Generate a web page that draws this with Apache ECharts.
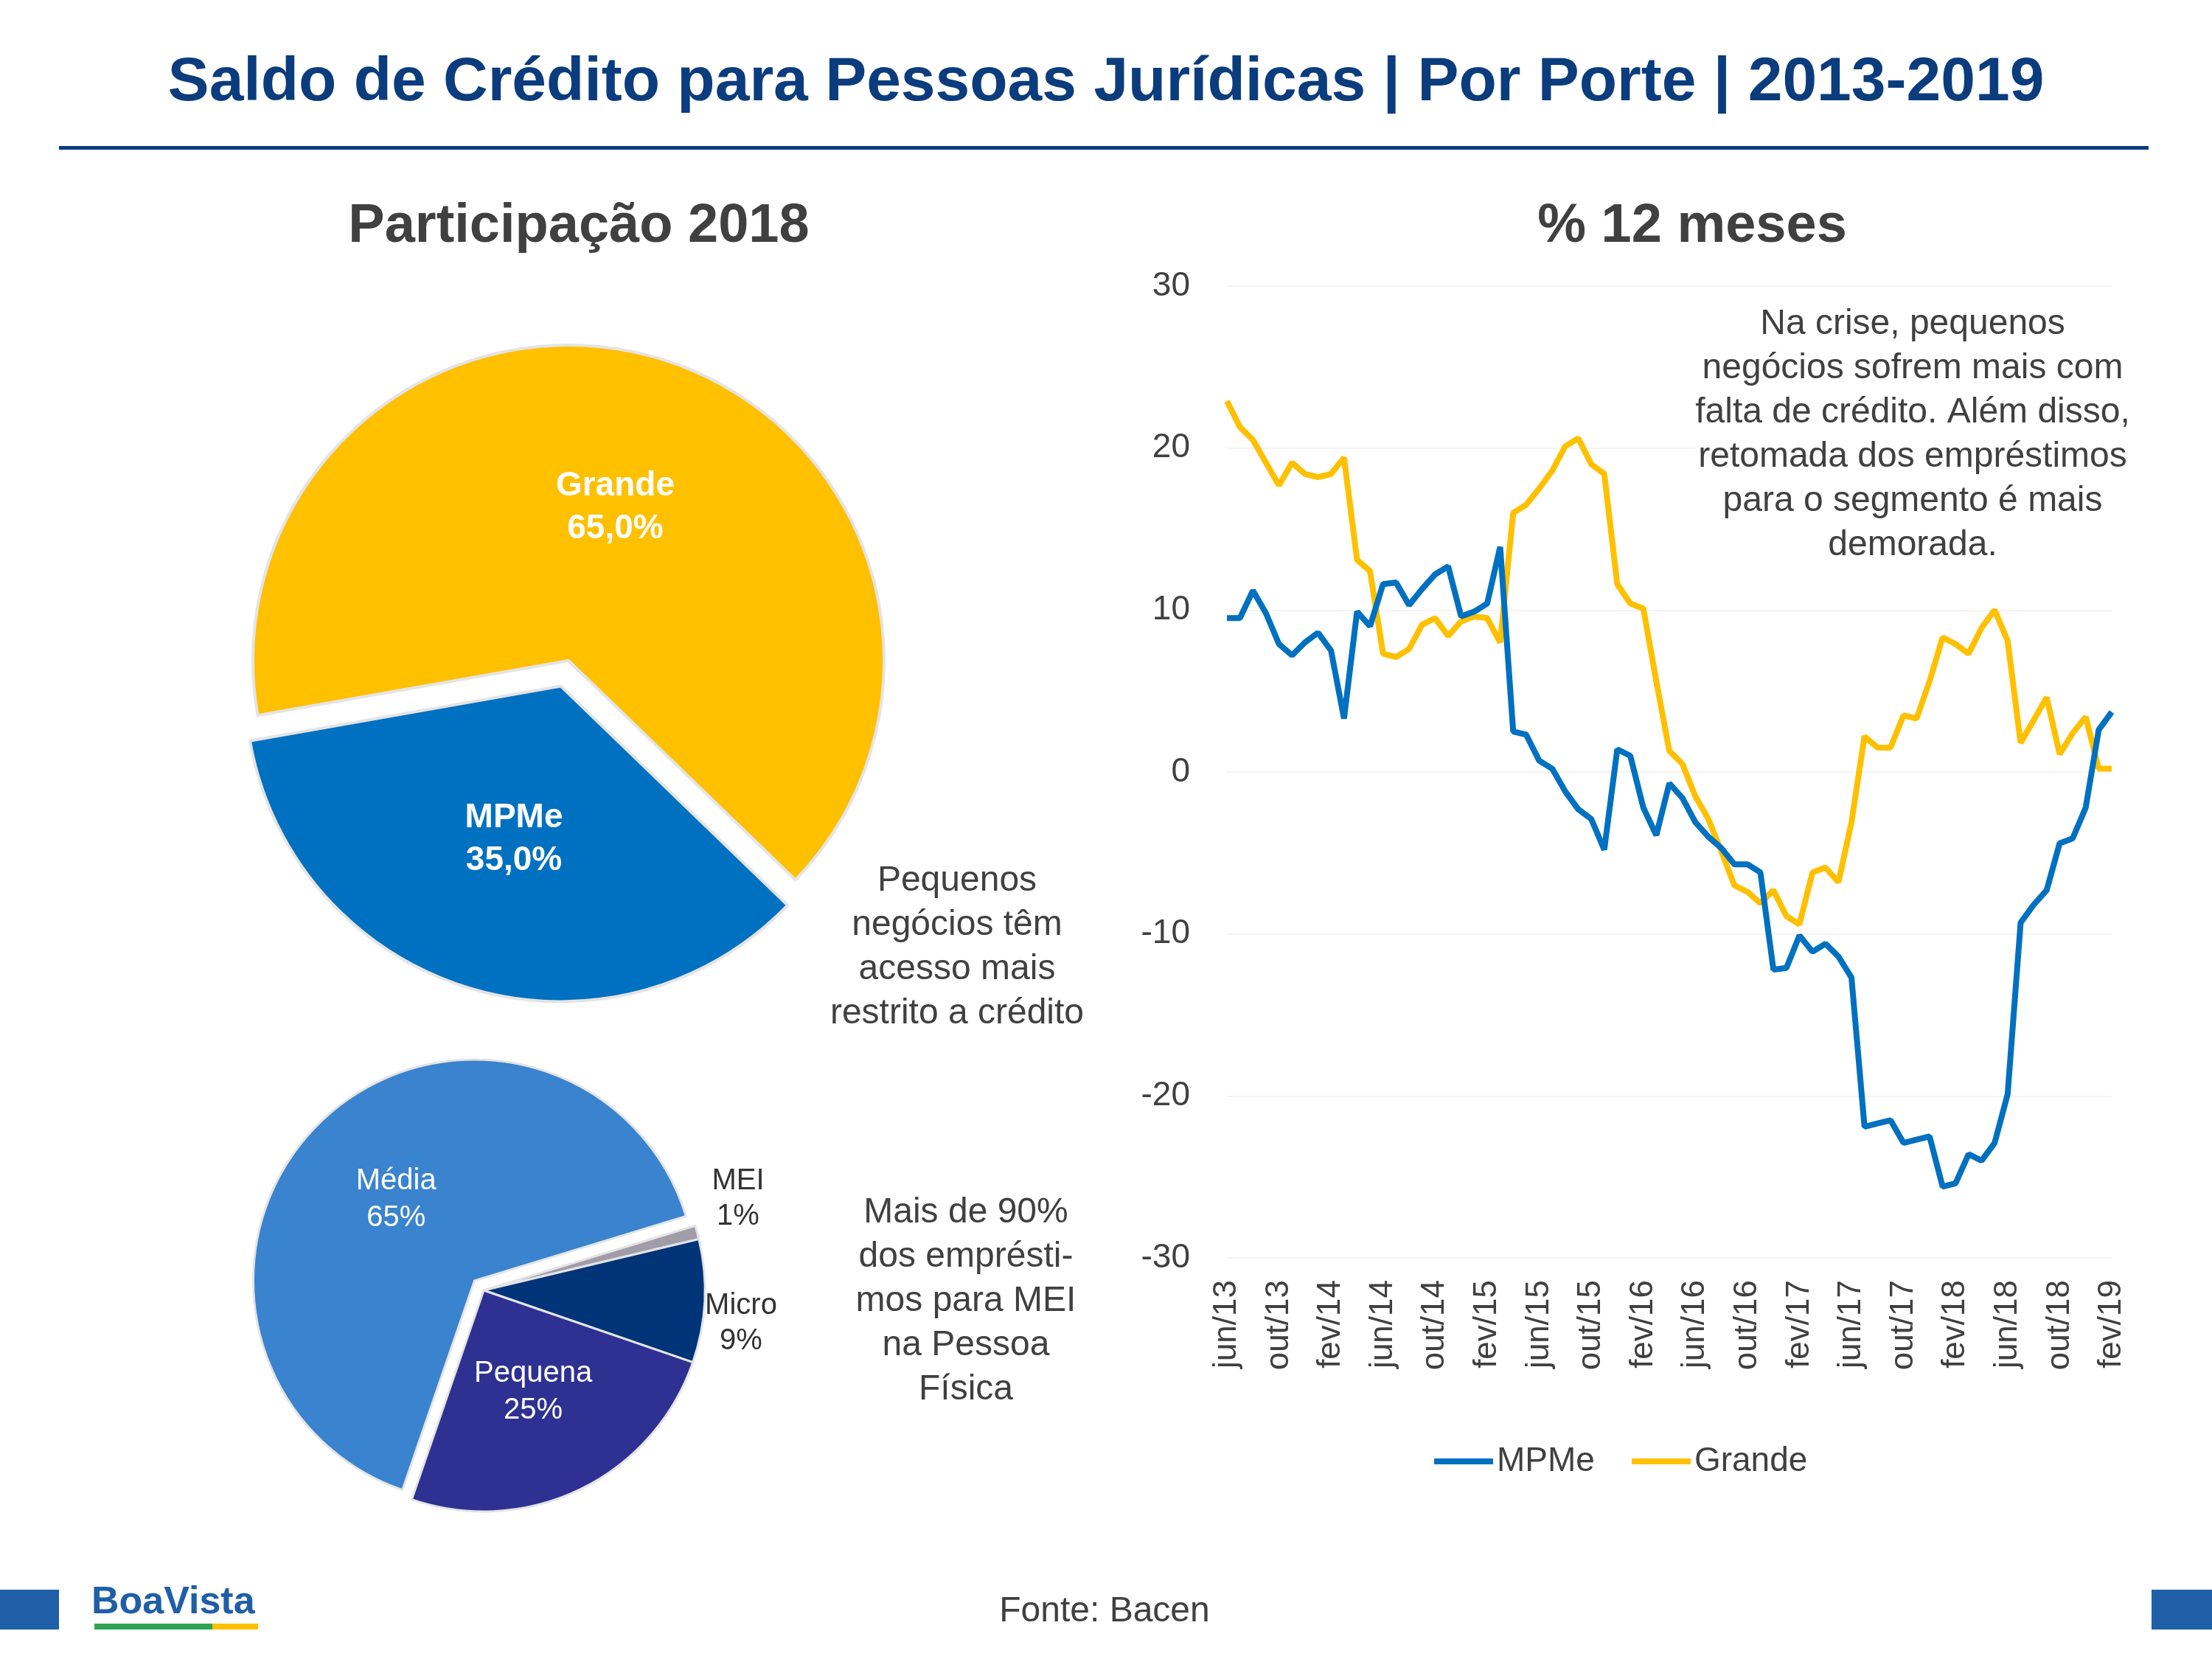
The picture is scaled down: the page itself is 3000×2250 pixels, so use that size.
<!DOCTYPE html>
<html><head><meta charset="utf-8">
<script src="https://cdn.jsdelivr.net/npm/echarts@6/dist/echarts.min.js"></script>
<style>html,body{margin:0;padding:0;background:#fff}#c{width:3000px;height:2250px}</style>
</head><body><div id="c"></div>
<script>
const months = ['jan','fev','mar','abr','mai','jun','jul','ago','set','out','nov','dez'];
const categories = [];
for (let y = 2013; y <= 2019; y++) for (let m = 0; m < 12; m++) {
  if (y === 2013 && m < 5) continue;
  if (y === 2019 && m > 1) continue;
  categories.push(months[m] + '/' + String(y).slice(2));
}
const mpme = [9.5,9.5,11.2,9.8,7.9,7.2,8.0,8.6,7.5,3.3,9.9,9.0,11.6,11.7,10.3,11.3,12.2,12.7,9.6,9.9,10.4,13.9,2.5,2.3,0.7,0.2,-1.2,-2.3,-2.9,-4.8,1.4,1.0,-2.2,-3.9,-0.7,-1.6,-3.1,-4.0,-4.7,-5.7,-5.7,-6.2,-12.2,-12.1,-10.1,-11.1,-10.6,-11.4,-12.7,-21.9,-21.7,-21.5,-22.9,-22.7,-22.5,-25.6,-25.4,-23.6,-24.0,-22.9,-19.9,-9.3,-8.2,-7.3,-4.4,-4.1,-2.2,2.6,3.7];
const grande = [22.9,21.3,20.5,19.1,17.7,19.1,18.4,18.2,18.4,19.4,13.1,12.4,7.3,7.1,7.6,9.1,9.5,8.4,9.3,9.6,9.5,8.0,16.0,16.5,17.5,18.6,20.1,20.6,19.0,18.4,11.6,10.4,10.1,5.6,1.3,0.5,-1.5,-2.9,-4.9,-7.0,-7.4,-8.1,-7.3,-8.9,-9.4,-6.2,-5.9,-6.8,-3.1,2.2,1.5,1.5,3.5,3.3,5.6,8.3,7.9,7.3,8.9,10.0,8.1,1.8,3.2,4.6,1.1,2.4,3.4,0.2,0.2];
const porteNames = ['Grande','MPMe'];
const porteValues = [65.0, 35.0];
const mpmeNames = ['Média','MEI','Micro','Pequena'];
const mpmeValues = [65, 1, 9, 25];

const txt = '#404040';
const chart = echarts.init(document.getElementById('c'));
chart.setOption({
  backgroundColor:'#fff',
  animation:false,
  textStyle:{fontFamily:'Liberation Sans, Arial, sans-serif'},
  title:[
    {text:'Saldo de Crédito para Pessoas Jurídicas | Por Porte | 2013-2019',left:'center',top:66,
     textStyle:{fontSize:84,fontWeight:'bold',color:'#0B3C7D',fontFamily:'Liberation Sans, Arial'}},
    {text:'Participação 2018',left:780,top:266,textAlign:'center',
     textStyle:{fontSize:74,fontWeight:'bold',color:txt}},
    {text:'% 12 meses',left:2290,top:266,textAlign:'center',
     textStyle:{fontSize:74,fontWeight:'bold',color:txt}}
  ],
  legend:{bottom:240,left:1940,itemWidth:80,itemHeight:8,itemGap:50,icon:'rect',
    textStyle:{fontSize:46,color:txt},data:['MPMe','Grande']},
  grid:{left:1664,right:136,top:388,bottom:544,containLabel:false},
  xAxis:{type:'category',data:categories,boundaryGap:false,
    axisLine:{show:false},axisTick:{show:false},
    axisLabel:{interval:3,rotate:90,fontSize:44,color:txt,margin:30}},
  yAxis:{type:'value',min:-30,max:30,interval:10,
    axisLine:{show:false},axisTick:{show:false},
    axisLabel:{fontSize:46,color:txt,margin:50},
    splitLine:{lineStyle:{color:'#F4F4F4',width:2}}},
  series:[
    {name:'MPMe',type:'line',data:mpme,showSymbol:false,lineStyle:{width:8,color:'#0070C0'},itemStyle:{color:'#0070C0'},z:3},
    {name:'Grande',type:'line',data:grande,showSymbol:false,lineStyle:{width:8,color:'#FFC000'},itemStyle:{color:'#FFC000'},z:2},
    {type:'pie',center:[771,896],radius:428,startAngle:190,selectedMode:'multiple',selectedOffset:36,
     itemStyle:{borderColor:'#E4E4E4',borderWidth:4},
     label:{position:'inside',color:'#fff',fontSize:46,fontWeight:'bold',lineHeight:58,
       formatter:p=>p.name+'\n'+p.value.toFixed(1).replace('.',',')+'%'},
     labelLine:{show:false},emphasis:{disabled:true},
     data:porteNames.map((n,i)=>({name:n,value:porteValues[i],selected:i===1,
       itemStyle:{color:['#FFC000','#0070C0'][i]}}))},
    {type:'pie',center:[656,1750],radius:300,startAngle:251,selectedMode:'multiple',selectedOffset:18,
     itemStyle:{borderColor:'#E4E4E4',borderWidth:3},
     label:{position:'inside',color:'#fff',fontSize:40,lineHeight:50,formatter:p=>p.name+'\n'+p.value+'%'},
     labelLine:{show:false},emphasis:{disabled:true},
     data:mpmeNames.map((n,i)=>({name:n,value:mpmeValues[i],selected:i===0,
       itemStyle:{color:['#3A83CE','#A09CA8','#003478','#2E3192'][i]},
       label:(i===1||i===2)?{show:false}:undefined}))}
  ],
  graphic:[
    {type:'rect',shape:{x:80,y:198,width:2834,height:5},style:{fill:'#0B3C7D'}},
    {type:'text',x:1298,y:1165,style:{text:'Pequenos\nnegócios têm\nacesso mais\nrestrito a crédito',lineHeight:60,fill:txt,align:'center',verticalAlign:'top',font:'48px Liberation Sans, Arial'}},
    {type:'text',x:1310,y:1615,style:{text:'Mais de 90%\ndos emprésti-\nmos para MEI\nna Pessoa\nFísica',lineHeight:60,fill:txt,align:'center',verticalAlign:'top',font:'48px Liberation Sans, Arial'}},
    {type:'text',x:2594,y:410,z:100,style:{text:'Na crise, pequenos\nnegócios sofrem mais com\nfalta de crédito. Além disso,\nretomada dos empréstimos\npara o segmento é mais\ndemorada.',lineHeight:60,fill:txt,backgroundColor:'#fff',align:'center',verticalAlign:'top',font:'48px Liberation Sans, Arial'}},
    {type:'text',x:1001,y:1626,style:{text:'MEI\n1%',lineHeight:48,fill:'#333',align:'center',verticalAlign:'middle',font:'40px Liberation Sans, Arial'}},
    {type:'text',x:1005,y:1795,style:{text:'Micro\n9%',lineHeight:48,fill:'#333',align:'center',verticalAlign:'middle',font:'40px Liberation Sans, Arial'}},
    {type:'text',x:1498,y:2186,style:{text:'Fonte: Bacen',font:'48px Liberation Sans, Arial',fill:txt,align:'center',verticalAlign:'middle'}},
    {type:'rect',shape:{x:0,y:2156,width:80,height:54},style:{fill:'#1F5FA8'}},
    {type:'rect',shape:{x:2918,y:2156,width:82,height:54},style:{fill:'#1F5FA8'}},
    {type:'text',x:124,y:2174,style:{text:'BoaVista',font:'bold 52px Liberation Sans, Arial',fill:'#1F5FA8',verticalAlign:'middle'}},
    {type:'rect',shape:{x:128,y:2202,width:160,height:8},style:{fill:'#2EA44F'}},
    {type:'rect',shape:{x:288,y:2202,width:62,height:8},style:{fill:'#FFC000'}}
  ]
});
</script></body></html>
